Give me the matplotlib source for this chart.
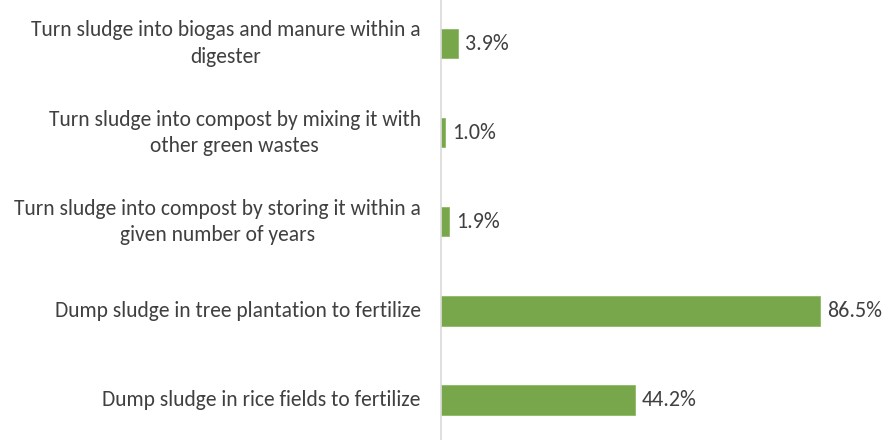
import matplotlib.pyplot as plt
from matplotlib import font_manager

# Data (bottom to top as drawn)
categories = [
    "Dump sludge in rice fields to fertilize",
    "Dump sludge in tree plantation to fertilize",
    "Turn sludge into compost by storing it within a\ngiven number of years",
    "Turn sludge into compost by mixing it with\nother green wastes",
    "Turn sludge into biogas and manure within a\ndigester",
]
values = [44.2, 86.5, 1.9, 1.0, 3.9]

names = {f.name for f in font_manager.fontManager.ttflist}
family = [f for f in ["Carlito", "Liberation Sans Narrow", "DejaVu Sans"] if f in names]
plt.rcParams["font.family"] = family

BAR_COLOR = "#78A64A"
TEXT_COLOR = "#404040"

fig = plt.figure(figsize=(8.91, 4.40), dpi=100)
ax = fig.add_axes([441 / 891, 0, 438 / 891, 1])

pos = list(range(len(categories)))
ax.barh(pos, values, height=0.33, color=BAR_COLOR, edgecolor="#8DBB63", linewidth=0.6)

for y, v in zip(pos, values):
    ax.text(v + 1.6, y, f"{v:.1f}%", va="center", ha="left",
            fontsize=15.8, color=TEXT_COLOR)

for y, lab in zip(pos, categories):
    ax.text(-4.6, y, lab, va="center", ha="right", multialignment="center",
            fontsize=15.5, color=TEXT_COLOR, linespacing=1.4)

ax.set_xlim(0, 100)
ax.set_ylim(-0.45, 4.49)
ax.set_xticks([])
ax.set_yticks([])
for side in ["top", "right", "bottom"]:
    ax.spines[side].set_visible(False)
ax.spines["left"].set_color("#D9D9D9")
ax.spines["left"].set_linewidth(1.2)

fig.savefig("out.png", dpi=100)
